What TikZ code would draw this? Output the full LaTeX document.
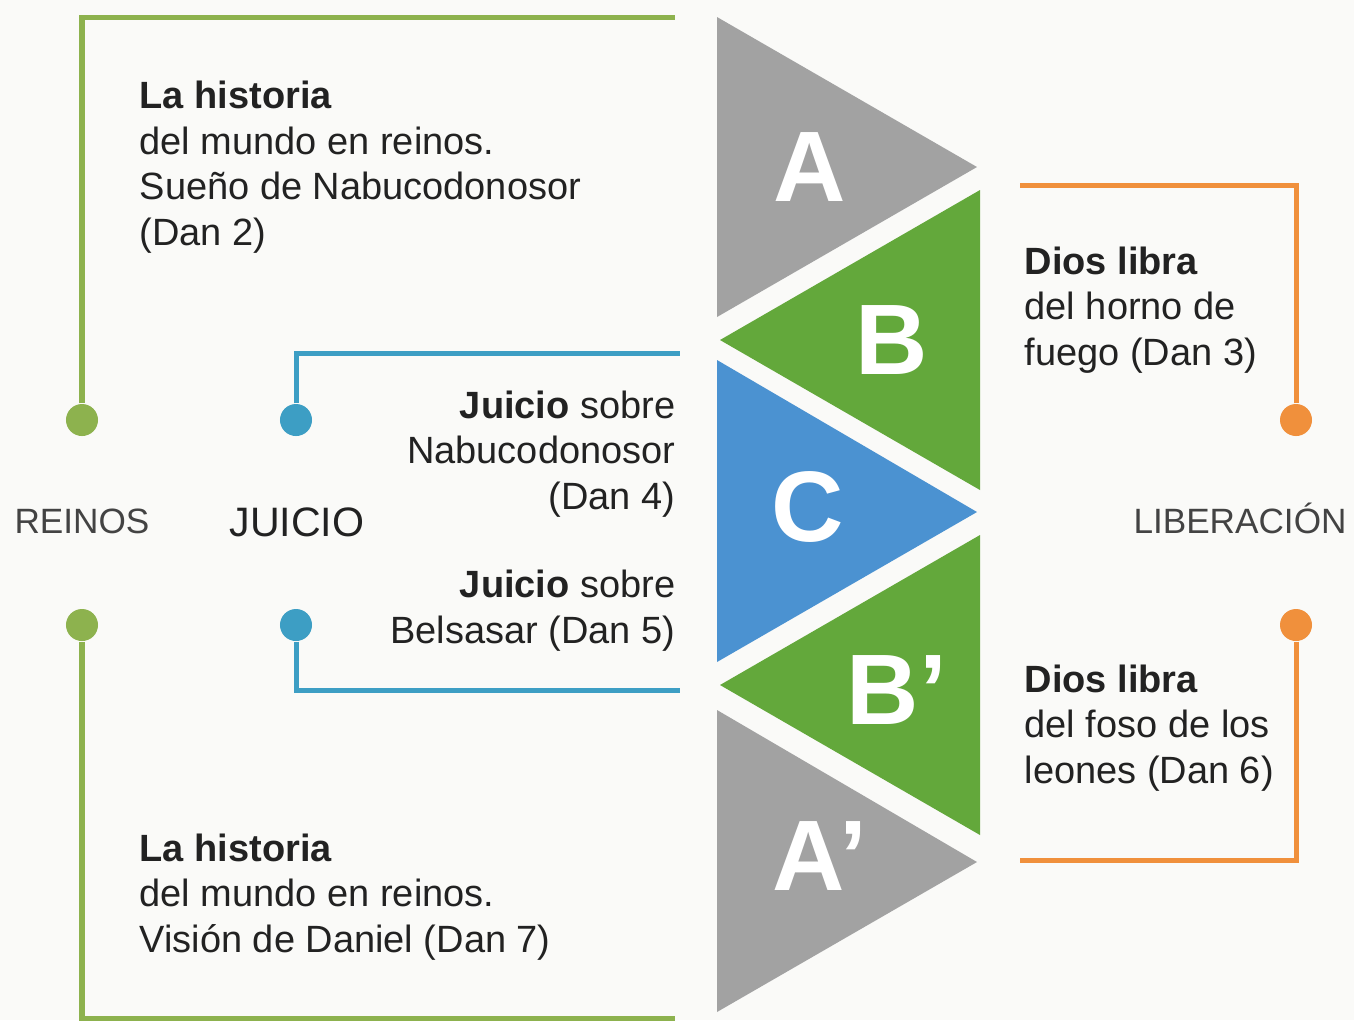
\documentclass[tikz,border=0pt]{standalone}
\usepackage{fontspec}
\setmainfont{Liberation Sans}
\usetikzlibrary{positioning}
\definecolor{fondo}{HTML}{FAFAF8}
\definecolor{gris}{HTML}{A2A2A2}
\definecolor{verde}{HTML}{63A83B}
\definecolor{azul}{HTML}{4B92D1}
\definecolor{lima}{HTML}{8DB24E}
\definecolor{turq}{HTML}{3D9EC4}
\definecolor{naranja}{HTML}{F0903C}
\definecolor{texto}{HTML}{222222}

\begin{document}
\begin{tikzpicture}[
  x=0.01cm, y=-0.01cm,
  dot/.style={circle, fill, minimum size=0.32cm, inner sep=0pt},
  lin/.style={line width=0.05cm},
  letra/.style={text=white, font=\fontsize{28.5}{30}\selectfont\bfseries},
  txt/.style={text=texto, inner sep=0pt, font=\fontsize{10.8}{12.9}\selectfont},
  tema/.style={text=texto!85, inner sep=0pt, font=\fontsize{10}{12}\selectfont}
]
\fill[fondo] (0,0) rectangle (1354,1020);
\useasboundingbox (0,0) rectangle (1354,1020);

% triangles
\fill[gris]  (717,17)  -- (977,167) -- (717,317)  -- cycle;
\fill[verde] (980,190) -- (720,340) -- (980,490)  -- cycle;
\fill[azul]  (717,360) -- (977,512) -- (717,662)  -- cycle;
\fill[verde] (980,535) -- (720,685) -- (980,835)  -- cycle;
\fill[gris]  (717,710) -- (977,862) -- (717,1012) -- cycle;

\node[letra] (A)  at (810,167) {A};
\node[letra] (B)  at (892,340) {B};
\node[letra] (C)  at (808,507) {C};
\node[letra] (B2) at (897,690) {B’};
\node[letra] (A2) at (820,856) {A’};

% dots
\node[dot, lima]    (r1) at (82,420)   {};
\node[dot, lima]    (r2) at (82,625)   {};
\node[dot, turq]    (j1) at (296,420)  {};
\node[dot, turq]    (j2) at (296,625)  {};
\node[dot, naranja] (l1) at (1296,420) {};
\node[dot, naranja] (l2) at (1296,625) {};

% ends of the brackets
\coordinate (r1b) at (675,17);
\coordinate (r2b) at (675,1018);
\coordinate (j1b) at (680,353);
\coordinate (j2b) at (680,690);
\coordinate (l1b) at (1020,185);
\coordinate (l2b) at (1020,860);

\draw[lin, lima]    (r1) |- (r1b);
\draw[lin, lima]    (r2) |- (r2b);
\draw[lin, turq]    (j1) |- (j1b);
\draw[lin, turq]    (j2) |- (j2b);
\draw[lin, naranja] (l1) |- (l1b);
\draw[lin, naranja] (l2) |- (l2b);

% themes
\node[tema, anchor=base] (reinos) at (82,533) {REINOS};
\node[tema, anchor=base, font=\fontsize{11.7}{14}\selectfont, text=texto] (juicio) at (297,536) {JUICIO};
\node[tema, anchor=base] (liber) at (1240,533) {LIBERACIÓN};

% texts (base = last line)
\node[txt, anchor=base west, align=left] (t1) at (139,245)
  {\textbf{La historia}\\del mundo en reinos.\\Sueño de Nabucodonosor\\(Dan 2)};
\node[txt, anchor=base west, align=left] (t7) at (139,952)
  {\textbf{La historia}\\del mundo en reinos.\\Visión de Daniel (Dan 7)};
\node[txt, anchor=base east, align=right] (t4) at (676,509)
  {\textbf{Juicio} sobre\\Nabucodonosor\\(Dan 4)};
\node[txt, anchor=base east, align=right] (t5) at (676,643)
  {\textbf{Juicio} sobre\\Belsasar (Dan 5)};
\node[txt, anchor=base west, align=left] (t3) at (1024,365)
  {\textbf{Dios libra}\\del horno de\\fuego (Dan 3)};
\node[txt, anchor=base west, align=left] (t6) at (1024,783)
  {\textbf{Dios libra}\\del foso de los\\leones (Dan 6)};
\end{tikzpicture}
\end{document}
